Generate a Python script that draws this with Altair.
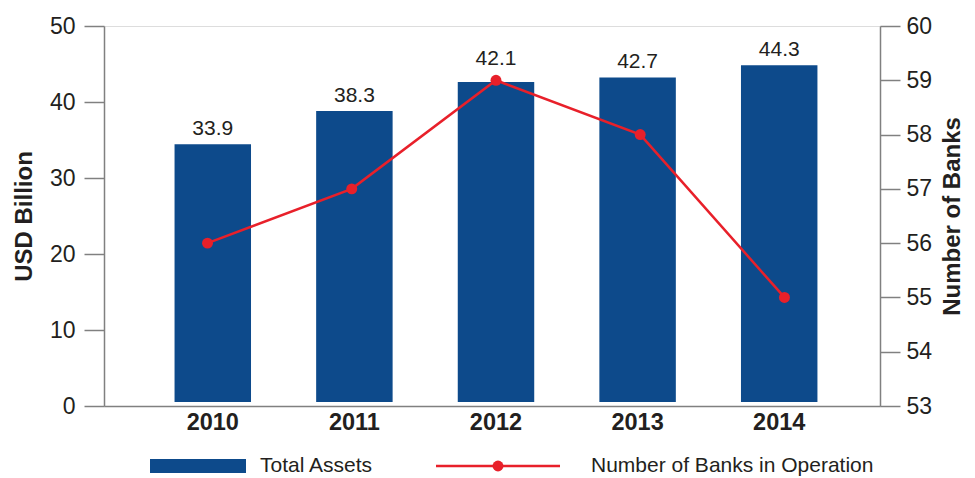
import altair as alt
import pandas as pd

years = ["2010", "2011", "2012", "2013", "2014"]
total_assets = [33.9, 38.3, 42.1, 42.7, 44.3]
num_banks = [56, 57, 59, 58, 55]
legend_labels = ["Total Assets", "Number of Banks in Operation"]

BLUE = "#0d4a8b"
RED = "#e8202a"
TXT = "#231f20"
AX = "#808080"
FONT = "Liberation Sans"

df = pd.DataFrame({"year": years, "assets": total_assets, "banks": num_banks})
df["label"] = [f"{v:.1f}" for v in total_assets]

xband = alt.X("year:N", title=None, sort=years,
              scale=alt.Scale(paddingInner=0.46, paddingOuter=0.47, align=0.53),
              axis=alt.Axis(labelAngle=0, ticks=False, labelFontWeight="bold",
                            labelFontSize=23.5, labelColor=TXT, labelFont=FONT,
                            labelPadding=4, domainColor=AX, domainWidth=1.5))

yleft = alt.Y("assets:Q", title="USD Billion",
              scale=alt.Scale(domain=[0, 50]),
              axis=alt.Axis(values=[0, 10, 20, 30, 40, 50], grid=False,
                            tickSize=20, tickColor=AX, tickWidth=1.5,
                            domainColor=AX, domainWidth=1.5,
                            labelFontSize=23, labelColor=TXT, labelFont=FONT,
                            labelPadding=9, titleFontSize=24, titleFont=FONT,
                            titleFontWeight="bold", titleColor=TXT,
                            titlePadding=13))

bars = alt.Chart(df).mark_bar(color=BLUE, yOffset=-4).encode(x=xband, y=yleft)
labels = alt.Chart(df).mark_text(fontSize=21, font=FONT, color=TXT, dy=-13,
                                 baseline="alphabetic").encode(
    x=alt.X("year:N", sort=years), y=alt.Y("assets:Q"), text="label:N"
).transform_filter(alt.datum.year != "2012")
labels_hi = alt.Chart(df).mark_text(fontSize=21, font=FONT, color=TXT, dy=-21,
                                    baseline="alphabetic").encode(
    x=alt.X("year:N", sort=years), y=alt.Y("assets:Q"), text="label:N"
).transform_filter(alt.datum.year == "2012")
left = alt.layer(bars, labels, labels_hi)

rscale = alt.Scale(type="point", padding=0.69, align=0.52)
yright = alt.Y("banks:Q", title="Number of Banks",
               scale=alt.Scale(domain=[53, 60]),
               axis=alt.Axis(orient="right", values=[53, 54, 55, 56, 57, 58, 59, 60],
                             grid=False, tickSize=20, tickColor=AX, tickWidth=1.5,
                             domainColor=AX, domainWidth=1.5,
                             labelFontSize=23, labelColor=TXT, labelFont=FONT,
                             labelPadding=6, titleFontSize=24, titleFont=FONT,
                             titleFontWeight="bold", titleColor=TXT,
                             titleAngle=270, titleBaseline="top", titlePadding=9))
line = alt.Chart(df).mark_line(color=RED, strokeWidth=2.5, point=alt.OverlayMarkDef(
    filled=True, color=RED, opacity=1, size=120)).encode(
    x=alt.X("year:N", sort=years, scale=rscale, axis=None), y=yright)

# legend
leg0 = pd.DataFrame({"t": [legend_labels[0]]})
leg1 = pd.DataFrame({"t": [legend_labels[1]]})
lrect = alt.Chart(leg0).mark_rect(color=BLUE).encode(
    x=alt.value(46), x2=alt.value(142), y=alt.value(433), y2=alt.value(447))
ltext0 = alt.Chart(leg0).mark_text(align="left", baseline="middle", fontSize=21,
                                   font=FONT, color=TXT).encode(
    x=alt.value(156), y=alt.value(440), text="t:N")
lrule = alt.Chart(leg1).mark_rule(color=RED, strokeWidth=2.5).encode(
    x=alt.value(332), x2=alt.value(456), y=alt.value(440))
lpt = alt.Chart(leg1).mark_point(filled=True, color=RED, opacity=1, size=120).encode(
    x=alt.value(394), y=alt.value(440))
ltext1 = alt.Chart(leg1).mark_text(align="left", baseline="middle", fontSize=21,
                                   font=FONT, color=TXT).encode(
    x=alt.value(487), y=alt.value(440), text="t:N")

chart = alt.layer(left, line, lrect, ltext0, lrule, lpt, ltext1).resolve_scale(
    y="independent", x="independent"
).properties(
    width=776, height=380,
    padding={"top": 7, "left": 4, "right": 0, "bottom": 5}
).configure_view(stroke=None).configure(background="white")

chart.save("out.html", embed_options={"renderer": "svg", "actions": False})
